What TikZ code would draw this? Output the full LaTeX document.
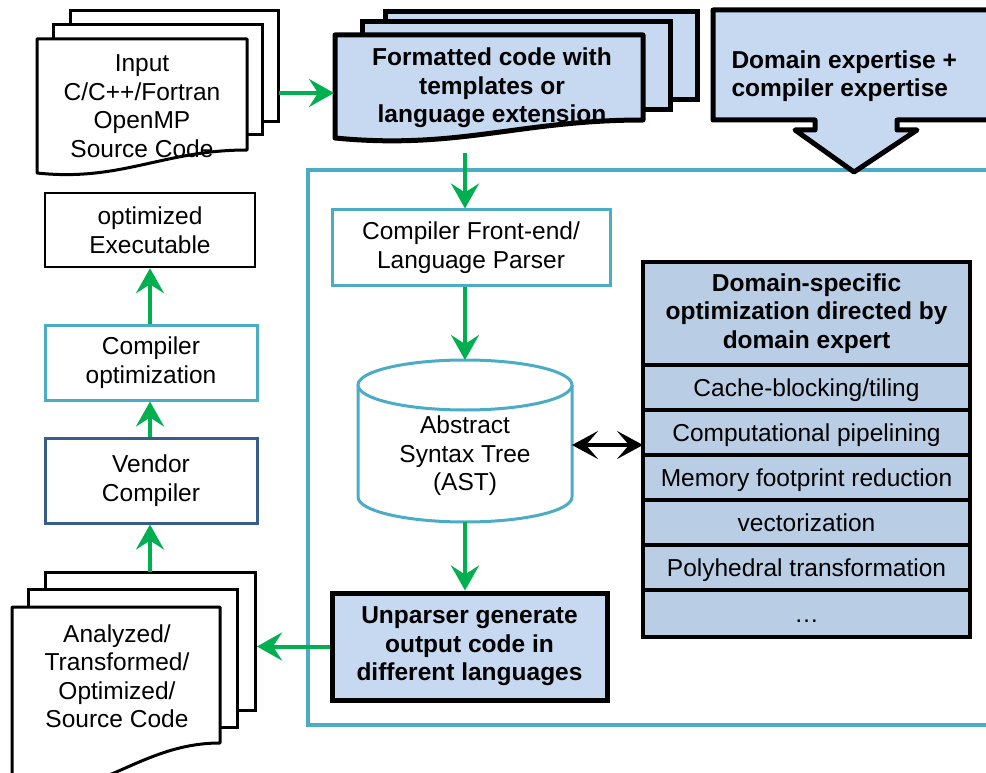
\documentclass[tikz,border=0pt]{standalone}
\usepackage{fontspec}
\setmainfont{Liberation Sans}
\usetikzlibrary{arrows.meta,positioning}
\definecolor{flowgreen}{HTML}{00B050}
\definecolor{paleblue}{HTML}{C6D9F1}
\definecolor{tableblue}{HTML}{B9CDE5}
\definecolor{aqua}{HTML}{4BACC6}
\definecolor{navy}{HTML}{385D8A}
\begin{document}
\begin{tikzpicture}[x=1pt,y=-1pt,
	txt/.style={font=\fontsize{24.5}{28.5}\selectfont, align=center},
	btxt/.style={font=\fontsize{24.5}{28.5}\selectfont\bfseries, align=center},
	stagebox/.style={txt, line width=3pt, fill=white, minimum width=212pt, inner sep=2pt},
	rowbox/.style={txt, draw=black, line width=4pt, fill=tableblue, minimum width=327pt, minimum height=45pt, inner sep=2pt, outer sep=0pt},
	rowtext/.style={text height=19pt, text depth=1pt},
	flow/.style={draw=flowgreen, line width=4pt, -{Stealth[length=25pt,width=28pt,inset=9pt]}},
	link/.style={draw=black, line width=4pt, {Stealth[length=26pt,width=28pt,inset=12pt]}-{Stealth[length=26pt,width=28pt,inset=12pt]}}]
	\useasboundingbox (0,0) rectangle (986,773);
	\clip (0,0) rectangle (986,773);
	% input source pages
	\draw[line width=3pt, fill=white] (70,11) rectangle (278,122);
	\draw[line width=3pt, fill=white] (53,25) rectangle (262,135);
	\draw[line width=3pt, fill=white, line join=round] (37,39) -- (247,39) -- (247,150) .. controls (163,150) and (121,182) .. (37,173) -- cycle;
	\node[txt] (input) at (142,106) {Input\\C/C++/Fortran\\OpenMP\\Source Code};
	\coordinate (inR) at (279,93);
	% formatted code pages
	\draw[line width=5pt, fill=paleblue] (385,12) rectangle (697,100);
	\draw[line width=5pt, fill=paleblue] (362,22) rectangle (670,110);
	\draw[line width=5pt, fill=paleblue, line join=round] (335,35) -- (643,35) -- (643,120) .. controls (520,120) and (458,150) .. (335,138) -- cycle;
	\node[btxt] (fmt) at (492,88) {Formatted code with\\templates or\\language extension};
	\coordinate (fmtL) at (334,93);
	\coordinate (fmtB) at (465,153);
	% tool frame and expertise callout
	\draw[draw=aqua, line width=4pt] (308,170) rectangle (1000,725);
	\draw[line width=5pt, fill=paleblue, line join=round] (713,10) -- (1000,10) -- (1000,120) -- (897,120) -- (897,130) -- (917,130) -- (854,172) -- (795,130) -- (815,130) -- (815,120) -- (713,120) -- cycle;
	\node[btxt, anchor=west, align=left] (expert) at (728,76) {Domain expertise +\\compiler expertise};
	% front-end, AST, unparser
	\node[stagebox, draw=aqua, minimum width=278pt, minimum height=75pt] (front) at (471,247.5) {Compiler Front-end/\\Language Parser};
	\draw[draw=aqua, line width=3pt, fill=white] (358,385) -- (358,497) arc[start angle=180, end angle=360, x radius=107pt, y radius=25pt] -- (572,385);
	\draw[draw=aqua, line width=3pt, fill=white] (465,385) ellipse[x radius=107pt, y radius=25pt];
	\node[txt] (ast) at (465,456) {Abstract\\Syntax Tree\\(AST)};
	\coordinate (astT) at (465,360);
	\coordinate (astB) at (465,522);
	\coordinate (astR) at (572,445);
	\node[btxt, draw=black, line width=5pt, fill=paleblue, minimum width=275pt, minimum height=107pt, inner sep=2pt] (unparse) at (469.5,646.5) {Unparser generate\\output code in\\different languages};
	% domain-specific table
	\node[rowbox, btxt, minimum height=103pt] (dshead) at (806.5,313.5) {Domain-specific\\optimization directed by\\domain expert};
	\node[rowbox, rowtext, below=0pt of dshead] (cache) {Cache-blocking/tiling};
	\node[rowbox, rowtext, below=0pt of cache] (pipe) {Computational pipelining};
	\node[rowbox, rowtext, below=0pt of pipe] (mem) {Memory footprint reduction};
	\node[rowbox, rowtext, below=0pt of mem] (vec) {vectorization};
	\node[rowbox, rowtext, below=0pt of vec] (poly) {Polyhedral transformation};
	\node[rowbox, rowtext, below=0pt of poly, minimum height=47pt] (more) {\dots};
	% output pages
	\draw[line width=3pt, fill=white] (45,572) rectangle (255,710);
	\draw[line width=3pt, fill=white] (28,589) rectangle (237,727);
	\draw[line width=3pt, fill=white, line join=round] (12,607) -- (220,607) -- (220,743) .. controls (137,743) and (95,805) .. (12,790) -- cycle;
	\node[txt] (output) at (117,676) {Analyzed/\\Transformed/\\Optimized/\\Source Code};
	\coordinate (outT) at (150,572);
	\coordinate (outR) at (257,648);
	% back-end column
	\node[stagebox, draw=black, line width=2.5pt, minimum width=210pt, minimum height=74pt] (exe) at (150,230) {optimized\\Executable};
	\node[stagebox, draw=aqua, minimum height=75pt] (copt) at (151,362.5) {Compiler\\optimization};
	\node[stagebox, draw=navy, minimum height=85pt] (vendor) at (151,480.5) {Vendor\\Compiler};
	% connectors
	\draw[flow] (inR) -- (fmtL);
	\draw[flow] (fmtB) -- (fmtB |- front.north);
	\draw[flow] (front.south -| astT) -- (astT);
	\draw[flow] (astB) -- (astB |- unparse.north);
	\draw[flow] (unparse.west) -- (unparse.west -| outR);
	\draw[flow] (outT) -- (outT |- vendor.south);
	\draw[flow] (vendor.north -| outT) -- (outT |- copt.south);
	\draw[flow] (copt.north -| outT) -- (outT |- exe.south);
	\draw[link] (astR) -- (astR -| dshead.west);
\end{tikzpicture}
\end{document}
